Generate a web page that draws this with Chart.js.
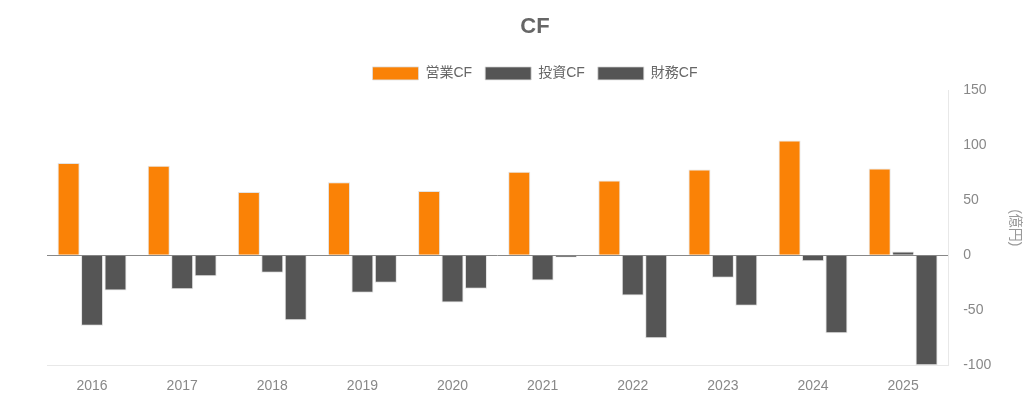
<!DOCTYPE html>
<html>
<head>
<meta charset="utf-8">
<script src="https://cdn.jsdelivr.net/npm/chart.js@4/dist/chart.umd.min.js"></script>
<style>
  html, body { margin: 0; padding: 0; background: #fff; }
  #wrap { width: 1024px; height: 399px; }
</style>
</head>
<body>
<div id="wrap"><canvas id="cf-chart" width="1024" height="399"></canvas></div>
<script>
const years = ['2016', '2017', '2018', '2019', '2020', '2021', '2022', '2023', '2024', '2025'];
const operatingCF = [84, 81.5, 57.5, 66.5, 58.5, 76, 68, 78, 104.5, 79];
const investingCF = [-64, -31, -16, -34, -43, -23, -36.5, -20.5, -5.5, 3.5];
const financingCF = [-32, -19, -59, -25, -30.5, -2, -75.5, -46, -71, -100];
const seriesNames = ['営業CF', '投資CF', '財務CF'];

const fontFamily = '"Liberation Sans", Arial, "Noto Sans CJK JP", sans-serif';
Chart.defaults.font.family = fontFamily;
Chart.defaults.color = '#666';

function makeSet(name, data, color) {
  return {
    label: name,
    data: data,
    backgroundColor: color,
    borderColor: 'rgba(220, 220, 220, 0.8)',
    borderWidth: 1,
    categoryPercentage: 0.78,
    barPercentage: 0.94
  };
}

const ctx = document.getElementById('cf-chart').getContext('2d');
const cfChart = new Chart(ctx, {
  type: 'bar',
  data: {
    labels: years,
    datasets: [
      makeSet(seriesNames[0], operatingCF, '#fa8206'),
      makeSet(seriesNames[1], investingCF, '#555555'),
      makeSet(seriesNames[2], financingCF, '#555555')
    ]
  },
  options: {
    responsive: false,
    animation: false,
    layout: { padding: { left: 47, right: 1, top: 2, bottom: -9 } },
    plugins: {
      title: {
        display: true,
        text: 'CF',
        color: '#666',
        font: { size: 22, weight: 'bold' },
        padding: { top: 12, bottom: 13 }
      },
      legend: {
        labels: {
          boxWidth: 46,
          boxHeight: 13,
          color: '#666',
          font: { size: 14 },
          padding: 13
        }
      },
      tooltip: { enabled: false }
    },
    scales: {
      x: {
        grid: { display: false, drawTicks: false },
        border: { color: '#e8e8e8' },
        ticks: { color: '#888', font: { size: 14 }, padding: 13 }
      },
      y: {
        position: 'right',
        min: -100,
        max: 150,
        ticks: { stepSize: 50, color: '#888', font: { size: 14 }, padding: 15 },
        grid: {
          drawTicks: false,
          color: function(c) { return c.tick && c.tick.value === 0 ? '#888' : 'rgba(0,0,0,0)'; }
        },
        border: { color: '#e8e8e8' },
        title: {
          display: true,
          text: '(億円)',
          color: '#999',
          font: { size: 14 },
          padding: { top: 0, bottom: 0 }
        }
      }
    }
  }
});
</script>
</body>
</html>
